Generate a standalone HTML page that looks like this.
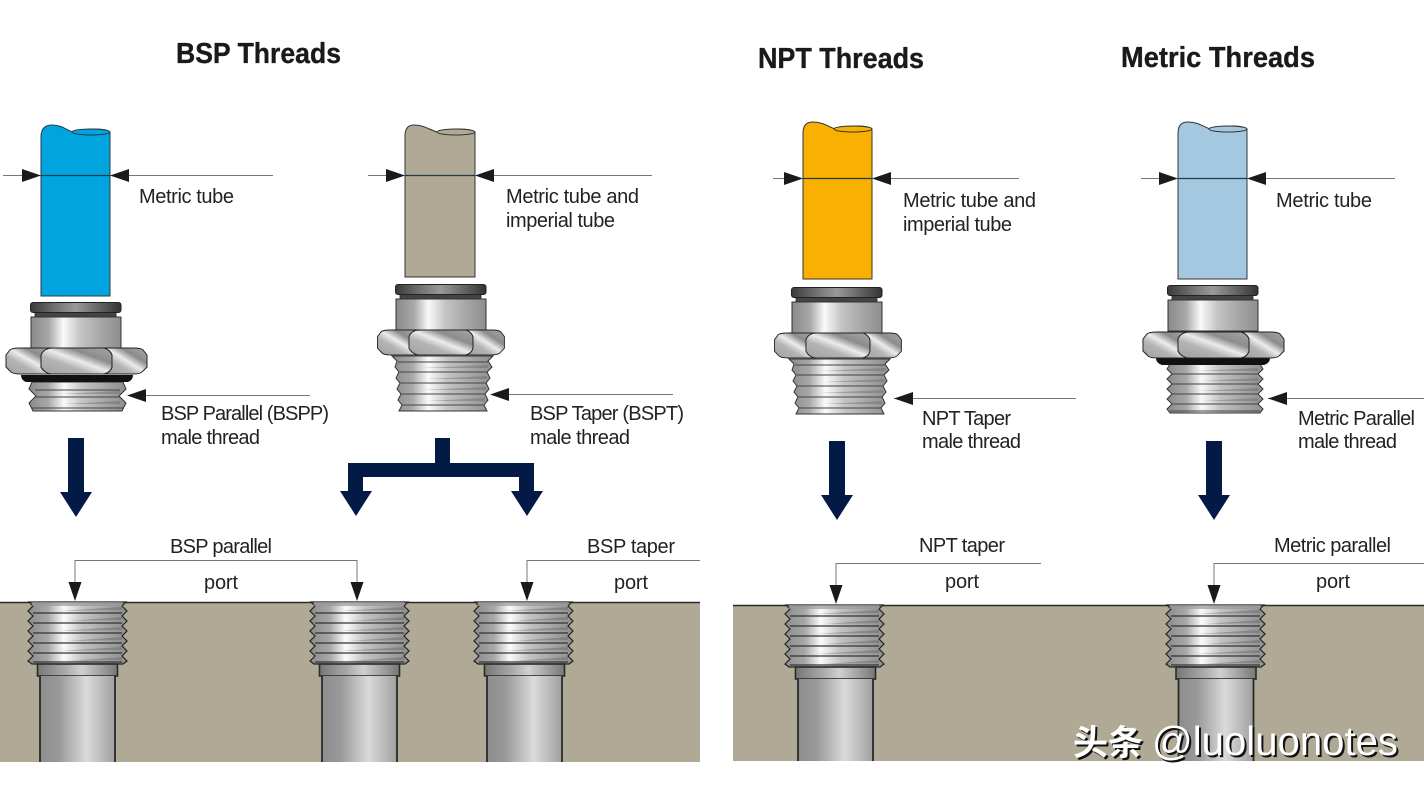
<!DOCTYPE html>
<html><head><meta charset="utf-8"><title>Threads</title>
<style>html,body{margin:0;padding:0;background:#fff}svg{display:block}
.t{font:bold 29px "Liberation Sans",sans-serif;fill:#1a1a1a;stroke:#1a1a1a;stroke-width:.35}
.l{font:20px "Liberation Sans",sans-serif;fill:#222}
</style></head><body>
<svg xmlns="http://www.w3.org/2000/svg" width="1424" height="786" viewBox="0 0 1424 786">
<defs>
<linearGradient id="m" x1="0" x2="1" y1="0" y2="0"><stop offset="0" stop-color="#8a8a8a"/><stop offset=".2" stop-color="#a8a8a8"/><stop offset=".36" stop-color="#fafafa"/><stop offset=".55" stop-color="#c4c4c4"/><stop offset=".8" stop-color="#a4a4a4"/><stop offset="1" stop-color="#8e8e8e"/></linearGradient>
<linearGradient id="tb" x1="0" x2="1" y1="0" y2="0"><stop offset="0" stop-color="#8d8d8d"/><stop offset=".25" stop-color="#999"/><stop offset=".62" stop-color="#dadada"/><stop offset="1" stop-color="#a0a0a0"/></linearGradient>
<linearGradient id="c" x1="0" x2="1" y1="0" y2="0"><stop offset="0" stop-color="#777"/><stop offset=".35" stop-color="#aaa"/><stop offset=".55" stop-color="#d0d0d0"/><stop offset="1" stop-color="#777"/></linearGradient>
<linearGradient id="k" x1="0" x2="1" y1="0" y2="0"><stop offset="0" stop-color="#3a3a3a"/><stop offset=".3" stop-color="#777"/><stop offset=".5" stop-color="#999"/><stop offset="1" stop-color="#333"/></linearGradient>
<linearGradient id="h" x1="0" x2="1" y1="1" y2="0"><stop offset="0" stop-color="#a0a0a0"/><stop offset=".35" stop-color="#b4b4b4"/><stop offset=".52" stop-color="#ececec"/><stop offset=".7" stop-color="#8c8c8c"/><stop offset="1" stop-color="#a8a8a8"/></linearGradient>

<g id="top">
<rect x="5" y="10" width="81" height="6" fill="#444" stroke="#222" stroke-width=".8"/>
<rect x="0.5" y="0.5" width="90.500" height="10" rx="2.500" fill="url(#k)" stroke="#222"/>
<path d="M1 15H91V46H1Z" fill="url(#m)" stroke="#333"/>
</g>
<g id="hex" stroke="#222" stroke-width="1">
<path d="M4 3Q6 1 14 1H47C42 1 37 3 35 8V20C37 24 42 27 46 27H14Q6 27 4 24L0 20V8Z" fill="url(#h)"/>
<path d="M137 3Q135 1 127 1H98C102 2 105 5 106 8V20C105 24 102 26 98 27H127Q135 27 137 24L141 20V8Z" fill="url(#h)"/>
<path d="M35 8C37 3 42 1 47 1H98C102 2 105 5 106 8V20C105 24 102 26 98 27H46C42 27 37 24 35 20Z" fill="url(#h)"/>
</g>

<g id="pt">
<path d="M1 0H98L94 4L99 9L94 14L99 19L94 24L99 29L94 34L99 39L94 44L99 49L94 54L99 59L95 62H4L0 59L5 54L0 49L5 44L0 39L5 34L0 29L5 24L0 19L5 14L0 9L5 4Z" fill="url(#m)" stroke="#222" stroke-width="1.200"/>
<rect x="4" y="0" width="90" height="4" fill="#999" opacity=".7"/>
<path d="M5 11H94M5 21H94M5 31H94M5 41H94M5 51H94M5 60H94" stroke="#333" stroke-width="1.300" fill="none"/>
<path d="M30 9L94 5V8ZM40 19L94 15V18ZM30 29L94 25V28ZM40 39L94 35V38ZM30 49L94 45V48ZM40 59L94 55V58Z" fill="#666" opacity=".45"/>
</g>
<g id="st">
<rect x="0.500" y="0" width="80" height="12" fill="url(#c)" stroke="#2a2a2a" stroke-width="1.600"/>
<rect x="3" y="12" width="75" height="86" fill="url(#tb)"/>
<path d="M3 12V98M78 12V98" stroke="#2a2a2a" stroke-width="1.800" fill="none"/>
</g>
<g id="st2">
<rect x="0.500" y="0" width="80" height="12" fill="url(#c)" stroke="#2a2a2a" stroke-width="1.600"/>
<rect x="3" y="12" width="75" height="82" fill="url(#tb)"/>
<path d="M3 12V94M78 12V94" stroke="#2a2a2a" stroke-width="1.800" fill="none"/>
</g>

<g id="th5">
<path d="M3 0H93L96 5L91 10L96 15L91 20L96 25L91 30L96 35L91 40L96 45L93 49H3L0 45L5 40L0 35L5 30L0 25L5 20L0 15L5 10L0 5Z" fill="url(#m)" stroke="#333" stroke-width="1"/>
<path d="M5 10H91M5 20H91M5 30H91M5 40H91M3 47H93" stroke="#444" stroke-width="1" fill="none"/>
<path d="M30 7L91 4V7ZM35 17L91 14V17ZM30 27L91 24V27ZM35 37L91 34V37Z" fill="#666" opacity=".4"/>
</g>
<g id="tap">
<path d="M0 0H101L96 5L100 11L95 16L98 22L94 27L97 33L93 38L96 44L92 49L95 55H7L10 49L6 44L9 38L5 33L8 27L4 22L7 16L3 11L5 5Z" fill="url(#m)" stroke="#333" stroke-width="1"/>
<path d="M6 6H96M8 16H95M8 27H94M9 38H93M10 49H92" stroke="#444" stroke-width="1" fill="none"/>
<path d="M30 12L96 9V12ZM35 23L95 20V23ZM30 34L94 31V34ZM35 45L93 42V45Z" fill="#666" opacity=".4"/>
</g>
<path id="ar" d="M0 0V54H-8L8 79L24 54H16V0Z" fill="#021a45"/>
<path id="al" d="M0 0L19 -6.500V6.500Z" fill="#1a1a1a"/>
<path id="ad" d="M0 0L-6.500 -19H6.500Z" fill="#1a1a1a"/>
</defs>

<rect width="1424" height="786" fill="#fff"/>

<text class="t" x="176" y="63" textLength="165" lengthAdjust="spacingAndGlyphs">BSP Threads</text>
<text class="t" x="758" y="68" textLength="166" lengthAdjust="spacingAndGlyphs">NPT Threads</text>
<text class="t" x="1121" y="67" textLength="194" lengthAdjust="spacingAndGlyphs">Metric Threads</text>

<!-- tubes -->
<path d="M41 296V137Q41 125 52 125C62 125 66 130 73 132C82 129 104 127 110 132V296Z" fill="#00a5df" stroke="#2a3a44" stroke-width="1"/>
<ellipse cx="91" cy="132" rx="19" ry="3" fill="#00a5df" stroke="#2a3a44"/>
<path d="M405 277V136Q405 125 414 125C424 125 430 130 437 132C446 129 468 127 475 132V277Z" fill="#b0a996" stroke="#333" stroke-width="1"/>
<ellipse cx="456" cy="132" rx="19" ry="3" fill="#b0a996" stroke="#333"/>
<path d="M803 279V133Q803 122 813 122C823 122 829 127 835 129C845 126 866 124 872 129V279Z" fill="#f9b000" stroke="#333" stroke-width="1"/>
<ellipse cx="853" cy="129" rx="19" ry="3" fill="#f9b000" stroke="#333"/>
<path d="M1178 279V133Q1178 122 1188 122C1198 122 1204 127 1210 129C1220 126 1241 124 1247 129V279Z" fill="#a5c8e1" stroke="#333" stroke-width="1"/>
<ellipse cx="1228" cy="129" rx="19" ry="3" fill="#a5c8e1" stroke="#333"/>

<!-- dimension lines -->
<g stroke-width="1" fill="none">
<path d="M3 175.500H273M368 175.500H652M773 178.500H1019M1141 178.500H1395" stroke="#777"/>
<path d="M41 175.500H110M405 175.500H475M803 178.500H872M1178 178.500H1247" stroke="#1c3a4a" stroke-width="1.200"/>
<path d="M128 395.500H310M491 394.500H673M894 398.500H1076M1268 398.500H1424" stroke="#777"/>
<path d="M75 600V560.500H357V600M527 600V560.500H700M836 603V563.500H1041M1214 603V563.500H1424" stroke="#777"/>
</g>
<use href="#al" transform="translate(41 175.500) scale(-1 1)"/><use href="#al" x="110" y="175.500"/>
<use href="#al" transform="translate(405 175.500) scale(-1 1)"/><use href="#al" x="475" y="175.500"/>
<use href="#al" transform="translate(803 178.500) scale(-1 1)"/><use href="#al" x="872" y="178.500"/>
<use href="#al" transform="translate(1178 178.500) scale(-1 1)"/><use href="#al" x="1247" y="178.500"/>
<use href="#al" x="127" y="395.500"/><use href="#al" x="490" y="394.500"/><use href="#al" x="894" y="398.500"/><use href="#al" x="1268" y="398.500"/>

<!-- fittings -->
<use href="#top" x="30" y="302"/>
<g transform="translate(29 382)"><path d="M3 0H94L97 7L90 14L97 21L93 29H4L0 21L7 14L0 7Z" fill="url(#m)" stroke="#333"/><path d="M6 8H91M6 15H91M3 26H94" stroke="#444" fill="none"/><path d="M30 12L91 9V12ZM35 22L91 19V22Z" fill="#666" opacity=".4"/></g>
<path d="M21 375H133Q133 380 128 382H26Q21 380 21 375Z" fill="#111"/>
<use href="#hex" x="6" y="347"/>

<use href="#top" x="395" y="284"/>
<use href="#tap" x="392" y="356"/>
<g transform="translate(377.500 329) scale(.9 .96)"><use href="#hex"/></g>

<use href="#top" x="791" y="287"/>
<use href="#tap" x="789" y="359"/>
<g transform="translate(774.500 332) scale(.9 .96)"><use href="#hex"/></g>

<use href="#top" x="1167" y="285"/>
<use href="#th5" x="1167" y="364"/>
<path d="M1156 358H1270Q1270 363 1264 365H1162Q1156 363 1156 358Z" fill="#111"/>
<use href="#hex" x="1143" y="331"/>

<!-- big arrows -->
<use href="#ar" x="68" y="438"/>
<use href="#ar" x="829" y="441"/>
<use href="#ar" x="1206" y="441"/>
<path d="M435 438H450V463H534V491H543L527 516L511 491H519V477H363V491H372L356 516L340 491H348V463H435Z" fill="#021a45"/>

<!-- ground -->
<rect x="0" y="602" width="700" height="160" fill="#b0a996"/>
<rect x="733" y="605" width="691" height="156" fill="#b0a996"/>
<path d="M0 602.500H700M733 605.500H1424" stroke="#2a2a2a" stroke-width="1.500"/>
<use href="#ad" x="75" y="601"/><use href="#ad" x="357" y="601"/><use href="#ad" x="527" y="601"/><use href="#ad" x="836" y="604"/><use href="#ad" x="1214" y="604"/>

<use href="#pt" x="28" y="602"/><use href="#st" x="37" y="664"/>
<use href="#pt" x="310" y="602"/><use href="#st" x="319" y="664"/>
<use href="#pt" x="474" y="602"/><use href="#st" x="484" y="664"/>
<use href="#pt" x="785" y="605"/><use href="#st2" x="795" y="667"/>
<use href="#pt" x="1166" y="605"/><use href="#st2" x="1175.500" y="667"/>

<!-- labels -->
<text class="l" x="139" y="203" textLength="95">Metric tube</text>
<text class="l" x="506" y="203" textLength="133">Metric tube and</text>
<text class="l" x="506" y="227" textLength="109">imperial tube</text>
<text class="l" x="903" y="207" textLength="133">Metric tube and</text>
<text class="l" x="903" y="231" textLength="109">imperial tube</text>
<text class="l" x="1276" y="207" textLength="96">Metric tube</text>
<text class="l" x="161" y="420" textLength="168">BSP Parallel (BSPP)</text>
<text class="l" x="161" y="444" textLength="99">male thread</text>
<text class="l" x="530" y="420" textLength="154">BSP Taper (BSPT)</text>
<text class="l" x="530" y="444" textLength="100">male thread</text>
<text class="l" x="922" y="425" textLength="89">NPT Taper</text>
<text class="l" x="922" y="448" textLength="99">male thread</text>
<text class="l" x="1298" y="425" textLength="117">Metric Parallel</text>
<text class="l" x="1298" y="448" textLength="99">male thread</text>
<text class="l" x="170" y="553" textLength="102">BSP parallel</text>
<text class="l" x="204" y="589" textLength="34">port</text>
<text class="l" x="587" y="553" textLength="88">BSP taper</text>
<text class="l" x="614" y="589" textLength="34">port</text>
<text class="l" x="919" y="552" textLength="86">NPT taper</text>
<text class="l" x="945" y="588" textLength="34">port</text>
<text class="l" x="1274" y="552" textLength="117">Metric parallel</text>
<text class="l" x="1316" y="588" textLength="34">port</text>

<!-- watermark -->
<g font-family="'Liberation Sans','Noto Sans CJK SC',sans-serif">
<text x="1075" y="757" fill="#111" font-size="35" font-weight="bold" textLength="70" lengthAdjust="spacingAndGlyphs">头条</text>
<text x="1154" y="757" fill="#111" font-size="41" textLength="246" lengthAdjust="spacingAndGlyphs">@luoluonotes</text>
<text x="1073" y="755" fill="#fff" font-size="35" font-weight="bold" textLength="70" lengthAdjust="spacingAndGlyphs">头条</text>
<text x="1152" y="755" fill="#fff" font-size="41" textLength="246" lengthAdjust="spacingAndGlyphs">@luoluonotes</text>
</g>
</svg>
</body></html>
